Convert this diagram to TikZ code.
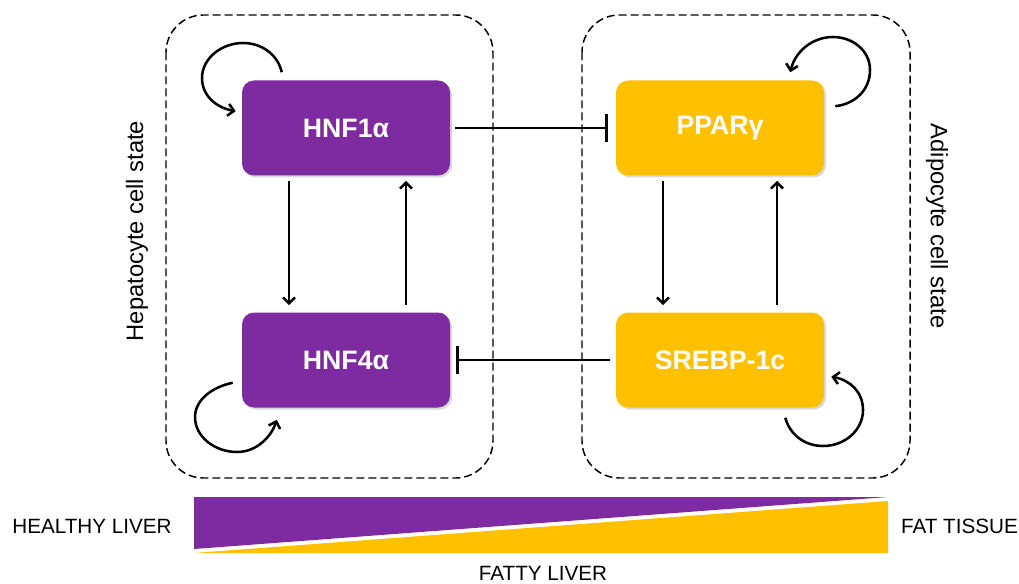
\documentclass[tikz,border=0pt]{standalone}
\usepackage{fontspec}
\setmainfont{Liberation Sans}
\usetikzlibrary{arrows.meta,shadows,calc}
\definecolor{hpurple}{HTML}{7E2AA0}
\definecolor{hyellow}{HTML}{FFC000}
\begin{document}
\begin{tikzpicture}[x=0.75pt,y=0.75pt,
  genebox/.style={rounded corners=9pt, minimum width=156pt, minimum height=71.25pt,
    inner sep=0pt, text=white, font=\fontsize{20}{24}\selectfont\bfseries,
    drop shadow={opacity=0.3, shadow xshift=1.5pt, shadow yshift=-1.5pt}},
  hep/.style={genebox, fill=hpurple},
  adi/.style={genebox, fill=hyellow},
  cellbox/.style={draw, line width=1.1pt, dash pattern=on 6pt off 3pt, rounded corners=28pt},
  arr/.style={line width=1.9pt, -{Straight Barb[length=4.5pt,width=9pt]}},
  inh/.style={line width=1.9pt, -{Bar[width=21pt]}},
  loop/.style={line width=1.9pt, -{Straight Barb[length=4.5pt,width=9pt]}},
  sidelabel/.style={font=\fontsize{17.8}{21}\selectfont, inner sep=0pt},
  barlabel/.style={font=\fontsize{15.5}{18}\selectfont, inner sep=0pt}]
\useasboundingbox (0,0) rectangle (1019,-584);

% dashed cell-state containers
\draw[cellbox] (166,-15) rectangle (493,-478);
\draw[cellbox] (582,-15) rectangle (910,-478);

% gene nodes
\node[hep] (h1) at (346,-128) {HNF1α};
\node[hep] (h4) at (346,-360) {HNF4α};
\node[adi] (pp) at (720,-128) {PPARγ};
\node[adi] (sr) at (720,-360) {SREBP-1c};

% vertical activations
\draw[arr] ($(h1.south)+(-57,-5)$) -- ($(h4.north)+(-57,7)$);
\draw[arr] ($(h4.north)+(60,7)$) -- ($(h1.south)+(60,-5)$);
\draw[arr] ($(pp.south)+(-57,-5)$) -- ($(sr.north)+(-57,7)$);
\draw[arr] ($(sr.north)+(57,7)$) -- ($(pp.south)+(57,-5)$);

% inhibitions
\draw[inh] ($(h1.east)+(5,0)$) -- ($(pp.west)+(-8,0)$);
\draw[inh] ($(sr.west)+(-6,0)$) -- ($(h4.east)+(6,0)$);

% self loops
\draw[loop] ($(h1.north west)+(40,8)$)
  .. controls (278,-55) and (262,-43) .. (243,-43)
  .. controls (222,-43) and (202,-58) .. (202,-78)
  .. controls (202,-97) and (218,-108) .. ($(h1.north west)+(-6,-31)$);
\draw[loop] ($(h4.south west)+(-9,25)$)
  .. controls (212,-387) and (195,-400) .. (195,-417)
  .. controls (195,-437) and (215,-452) .. (237,-452)
  .. controls (258,-452) and (272,-435) .. ($(h4.south west)+(35,-12)$);
\draw[loop] ($(pp.north east)+(11,-26)$)
  .. controls (855,-104) and (870,-90) .. (870,-70)
  .. controls (870,-50) and (852,-37) .. (833,-37)
  .. controls (812,-37) and (795,-52) .. ($(pp.north east)+(-34,8)$);
\draw[loop] ($(sr.south east)+(-39,-10)$)
  .. controls (790,-435) and (805,-446) .. (823,-446)
  .. controls (845,-446) and (863,-430) .. (863,-410)
  .. controls (863,-392) and (850,-380) .. ($(sr.south east)+(7,31)$);

% side labels
\node[sidelabel, rotate=90] (hlab) at (137,-231) {Hepatocyte cell state};
\node[sidelabel, rotate=-90] (alab) at (937,-226) {Adipocyte cell state};

% gradient bar
\fill[hpurple] (194,-497) -- (888,-497) -- (194,-549) -- cycle;
\fill[hyellow] (194,-553) -- (888,-553) -- (888,-501) -- cycle;

\node[barlabel] (healthy) at (92,-526) {HEALTHY LIVER};
\node[barlabel] (fat) at (959.5,-526) {FAT TISSUE};
\node[barlabel] (fatty) at (543,-573) {FATTY LIVER};
\end{tikzpicture}
\end{document}
